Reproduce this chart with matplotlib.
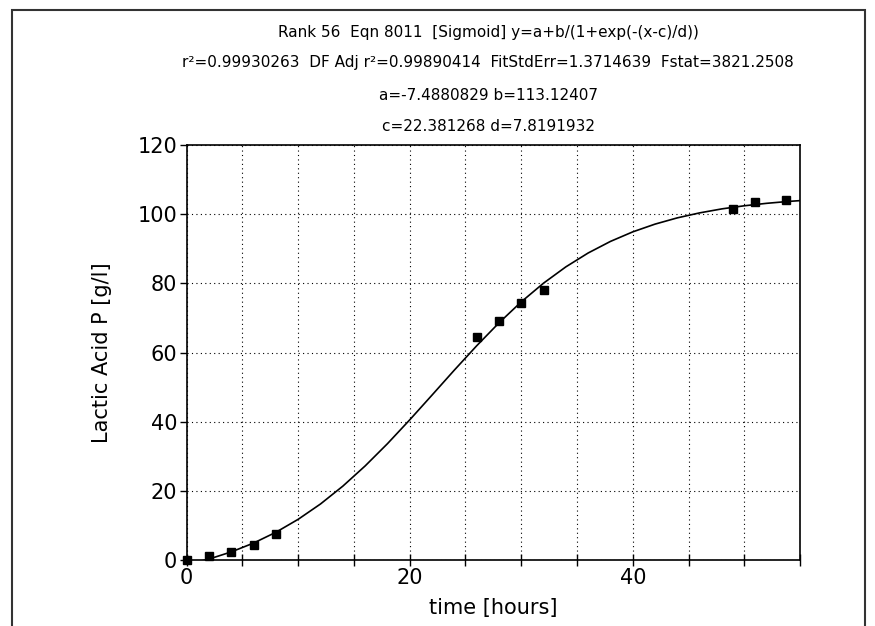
import matplotlib
matplotlib.use("Agg")
import matplotlib.pyplot as plt
from matplotlib.patches import Rectangle
from matplotlib.ticker import MultipleLocator

plt.rcParams['font.family'] = ['DejaVu Sans']

# Measured data points
time_h = [0, 2, 4, 6, 8, 26, 28, 30, 32, 49, 51, 53.7]
lactic = [0.0, 1.2, 2.4, 4.3, 7.5, 64.4, 69.0, 74.4, 78.1, 101.5, 103.4, 104.2]

# Fitted curve
curve_x = [0, 2, 4, 6, 8, 10, 12, 14, 16, 18, 20, 22, 24, 26, 28, 30, 32,
           34, 36, 38, 40, 42, 44, 46, 48, 50, 52, 54, 55]
curve_y = [-1.37, 0.28, 2.35, 4.91, 8.03, 11.78, 16.21, 21.36, 27.20, 33.63,
           40.53, 47.69, 54.91, 61.93, 68.56, 74.64, 80.05, 84.76, 88.77,
           92.12, 94.88, 97.12, 98.93, 100.37, 101.53, 102.42, 103.13,
           103.69, 103.91]

title_lines = [
    "Rank 56  Eqn 8011  [Sigmoid] y=a+b/(1+exp(-(x-c)/d))",
    "r²=0.99930263  DF Adj r²=0.99890414  FitStdErr=1.3714639  Fstat=3821.2508",
    "a=-7.4880829 b=113.12407",
    "c=22.381268 d=7.8191932",
]
title_y_px = [32, 63, 95, 126]

fig = plt.figure(figsize=(8.75, 6.26), dpi=100)
ax = fig.add_axes([0.2134, 0.1054, 0.7009, 0.663])

# outer frame
fig.patches.append(Rectangle((0.0137, -0.05), 0.975, 1.034, transform=fig.transFigure,
                             fill=False, edgecolor='#333333', linewidth=1.5))

ax.plot(curve_x, curve_y, color='black', linewidth=1.2)
ax.plot(time_h, lactic, linestyle='none', marker='s', markersize=6,
        color='black', clip_on=False, zorder=3)

ax.set_xlim(0, 55)
ax.set_ylim(0, 120)
ax.xaxis.set_major_locator(MultipleLocator(20))
ax.xaxis.set_minor_locator(MultipleLocator(5))
ax.yaxis.set_major_locator(MultipleLocator(20))

ax.grid(True, which='both', axis='x', linestyle=(0, (1, 3)), color='black', linewidth=0.8)
ax.grid(True, which='major', axis='y', linestyle=(0, (1, 3)), color='black', linewidth=0.8)

ax.tick_params(axis='x', which='both', direction='inout', length=8, width=1,
               labelsize=15, pad=2)
ax.tick_params(axis='y', which='major', direction='out', length=5, width=1,
               labelsize=15, pad=2)

for s in ax.spines.values():
    s.set_linewidth(1.2)

ax.set_xlabel('time [hours]', fontsize=15, labelpad=7)
ax.set_ylabel('Lactic Acid P [g/l]', fontsize=15, labelpad=18)

for line, ypx in zip(title_lines, title_y_px):
    fig.text(0.558, 1 - ypx / 626, line, ha='center', va='center', fontsize=11)

fig.savefig('out.png', dpi=100)
